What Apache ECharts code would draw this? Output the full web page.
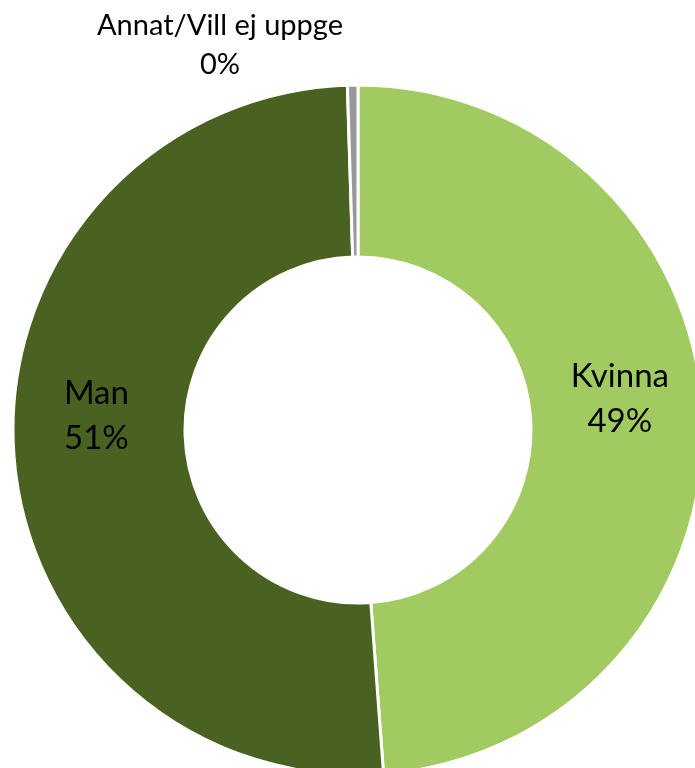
<!DOCTYPE html>
<html lang="sv">
<head>
  <meta charset="UTF-8" />
  <title>Kön</title>
  <script src="https://cdn.jsdelivr.net/npm/echarts@6/dist/echarts.min.js"></script>
  <style>
    html, body { margin: 0; padding: 0; background: #fff; }
    #main { width: 695px; height: 768px; }
  </style>
</head>
<body>
  <div id="main"></div>
  <script type="text/javascript">
    // andel per kön (procent), läst från bilden
    var categories = ['Kvinna', 'Man', 'Annat/Vill ej uppge'];
    var shares = [48.82, 50.69, 0.49];
    var colors = ['#a1ca60', '#4a6221', '#999999'];
    // små justeringar av etiketternas höjd (Excel lägger dem lite högre)
    var labelShift = [-21, -28, 0];

    var pieData = categories.map(function (name, i) {
      var item = { name: name, value: shares[i], itemStyle: { color: colors[i] } };
      if (i === 2) {
        item.label = { position: 'outside', fontSize: 29, lineHeight: 39 };
        item.labelLine = { show: false };
      }
      return item;
    });

    var myChart = echarts.init(document.getElementById('main'));
    var option = {
      animation: false,
      series: [
        {
          type: 'pie',
          center: [358, 430],
          radius: [173, 345],
          startAngle: 90,
          clockwise: true,
          percentPrecision: 0,
          avoidLabelOverlap: false,
          itemStyle: {
            borderColor: '#fff',
            borderWidth: 3
          },
          label: {
            show: true,
            position: 'inside',
            formatter: '{b}\n{d}%',
            color: '#000',
            fontFamily: 'Lato',
            fontSize: 33,
            lineHeight: 45
          },
          labelLine: { show: false },
          labelLayout: function (params) {
            if (params.dataIndex === 2) {
              return { x: 220, y: 45, align: 'center', verticalAlign: 'middle' };
            }
            return { dy: labelShift[params.dataIndex] };
          },
          data: pieData
        }
      ]
    };
    myChart.setOption(option);
  </script>
</body>
</html>
